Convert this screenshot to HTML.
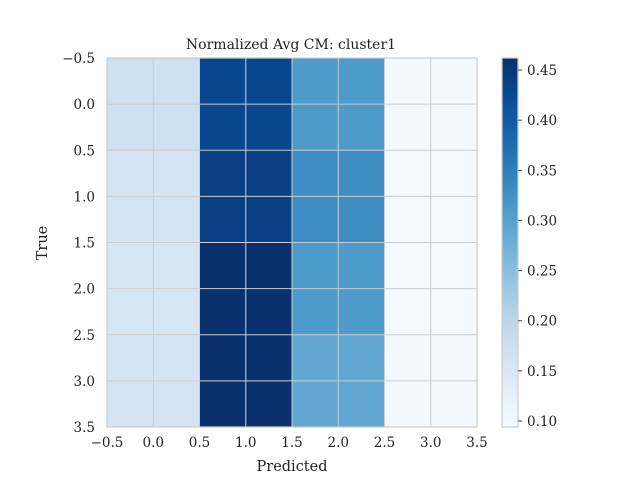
<!DOCTYPE html>
<html><head><meta charset="utf-8"><style>
html,body{margin:0;padding:0;background:#fff;}
svg{display:block;font-family:"DejaVu Serif","Liberation Serif",serif;}
</style></head><body>
<svg id="chart" width="640" height="480">
<defs><linearGradient id="cbgrad" x1="0" y1="1" x2="0" y2="0"></linearGradient></defs>
<text x="291" y="49" font-size="14" text-anchor="middle" fill="#222">Normalized Avg CM: cluster1</text>
<g id="cells"></g><g id="grid"></g><g id="axes"></g><g id="cbar"></g>
<text x="292" y="471" font-size="14.5" text-anchor="middle" fill="#222">Predicted</text>
<text x="47" y="243" font-size="14.5" text-anchor="middle" fill="#222" transform="rotate(-90 47 243)">True</text>
</svg>
<script>
const matrix = [
 [0.170, 0.43, 0.31, 0.100],
 [0.160, 0.44, 0.33, 0.098],
 [0.155, 0.46, 0.31, 0.098],
 [0.160, 0.46, 0.29, 0.103]
];
const axisTicks = [-0.5,0.0,0.5,1.0,1.5,2.0,2.5,3.0,3.5];
const cbTicks = [0.10,0.15,0.20,0.25,0.30,0.35,0.40,0.45];
const vmin = 0.094, vmax = 0.462;

const NS="http://www.w3.org/2000/svg";
const L=107,R=477,T=58,B=427;
const xs=v=>L+(v+0.5)/4*(R-L);
const ys=v=>T+(v+0.5)/4*(B-T);
const stops=["#f7fbff","#deebf7","#c6dbef","#9ecae1","#6baed6","#4292c6","#2171b5","#08519c","#08306b"].map(h=>[1,3,5].map(i=>parseInt(h.substr(i,2),16)));
function blues(t){t=Math.max(0,Math.min(1,t));const p=t*8,i=Math.min(7,Math.floor(p)),f=p-i;
 const c=stops[i].map((a,k)=>Math.round(a+(stops[i+1][k]-a)*f));return `rgb(${c})`;}
function mk(tag,attrs,parent){const e=document.createElementNS(NS,tag);for(const k in attrs)e.setAttribute(k,attrs[k]);parent.appendChild(e);return e;}
const cells=document.getElementById('cells');
matrix.forEach((row,r)=>row.forEach((v,c)=>{
 const e=mk('rect',{x:xs(c-0.5),y:ys(r-0.5),width:xs(c+0.5)-xs(c-0.5),height:ys(r+0.5)-ys(r-0.5),fill:blues((v-vmin)/(vmax-vmin))},cells);
 
 
}));
const grid=document.getElementById('grid');
axisTicks.forEach(t=>{
 mk('line',{x1:xs(t),x2:xs(t),y1:T,y2:B,stroke:'#cccccc','stroke-width':1},grid);
 mk('line',{x1:L,x2:R,y1:ys(t),y2:ys(t),stroke:'#cccccc','stroke-width':1},grid);
});
const axes=document.getElementById('axes');
mk('rect',{x:L,y:T,width:R-L,height:B-T,fill:'none',stroke:'#cccccc','stroke-width':1.2},axes);
axisTicks.forEach(t=>{
 const lab=t.toFixed(1).replace('-','\u2212');
 const a=mk('text',{x:xs(t),y:B+20,'font-size':13.5,'text-anchor':'middle',fill:'#222'},axes);a.textContent=lab;
 
 
 const b=mk('text',{x:L-12,y:ys(t)+5,'font-size':13.5,'text-anchor':'end',fill:'#222'},axes);b.textContent=lab;
 
 
});
const g=document.getElementById('cbgrad');
for(let i=0;i<=20;i++){mk('stop',{offset:(i/20),'stop-color':blues(i/20)},g);}
const cb=document.getElementById('cbar');
const CL=502,CR=518;
const cy=v=>B-(v-vmin)/(vmax-vmin)*(B-T);
const cr=mk('rect',{x:CL,y:T,width:CR-CL,height:B-T,fill:'url(#cbgrad)',stroke:'#cccccc','stroke-width':1.2},cb);


cbTicks.forEach(t=>{
 mk('line',{x1:CR,x2:CR+4,y1:cy(t),y2:cy(t),stroke:'#444'},cb);
 const e=mk('text',{x:CR+9,y:cy(t)+5,'font-size':13.5,fill:'#222'},cb);e.textContent=t.toFixed(2);
 
 
});
</script>
</body></html>
